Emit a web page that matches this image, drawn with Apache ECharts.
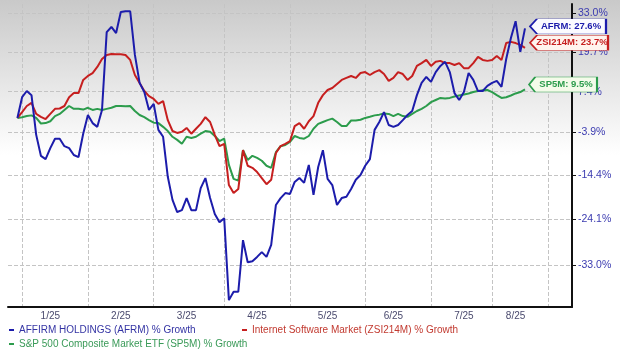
<!DOCTYPE html>
<html>
<head>
<meta charset="utf-8">
<script src="https://cdn.jsdelivr.net/npm/echarts@6/dist/echarts.min.js"></script>
<style>
  html, body { margin: 0; padding: 0; background: #fff; }
  #chart { width: 620px; height: 353px; }
</style>
</head>
<body>
<div id="chart"></div>
<script>
// % growth since start, one value per sample step (first sample sits at slot 2)
const afrm = [
  0, 5.8, 7.6, 6.4, -4.5, -9.8, -10.6, -7.9, -5.5, -5.5,
  -7.4, -7.9, -9.6, -10.1, -4.2, 0.8, -1.4, -2.4, 2.2, 26.3,
  28.1, 26.0, 33.4, 33.7, 33.7, 18.7, 10.0, 7.3, 2.2, 3.9,
  -3.2, -5.0, -14.8, -20.0, -22.6, -22.2, -19.6, -22.2, -22.2, -17.4,
  -15.1, -19.6, -23.0, -24.7, -23.9, -39.1, -37.7, -37.7, -28.3, -32.5,
  -32.3, -31.5, -30.6, -31.5, -29.2, -21.1, -19.6, -18.5, -18.7, -16.0,
  -15.1, -16.2, -12.0, -18.9, -12.5, -8.4, -15.3, -16.7, -21.1, -19.6,
  -19.3, -17.6, -15.5, -14.4, -12.2, -10.6, -3.2, -1.1, 1.6, -1.9,
  -2.4, -1.9, -0.6, 0.8, 1.9, 6.4, 10.0, 11.8, 10.3, 13.3,
  15.2, 16.5, 13.3, 7.0, 5.0, 7.3, 13.0, 10.9, 7.6, 7.6,
  9.1, 10.0, 10.6, 8.8, 17.4, 24.3, 30.1, 19.7, 27.6
];
const zsi = [
  0, 1.6, 3.3, 4.2, 1.1, 0.3, -0.3, 1.1, 2.5, 2.6,
  3.3, 5.8, 7.0, 7.0, 10.9, 12.1, 13.0, 14.9, 17.4, 18.7,
  19.0, 18.9, 18.9, 18.7, 17.1, 12.4, 10.0, 7.6, 6.1, 5.3,
  3.9, 4.7, -0.6, -3.5, -4.0, -3.7, -2.7, -4.2, -2.9, -1.6,
  0.2, -1.1, -4.5, -7.4, -6.8, -16.7, -18.5, -17.6, -8.4, -12.2,
  -12.7, -13.7, -15.1, -16.5, -15.5, -9.1, -7.4, -6.8, -6.1, -2.2,
  -1.4, -2.9, -0.9, 0.5, 4.2, 6.4, 7.9, 8.5, 9.7, 10.9,
  11.5, 12.1, 11.5, 13.0, 13.3, 12.4, 13.3, 13.9, 12.7, 10.6,
  11.5, 13.3, 12.7, 10.9, 12.1, 15.2, 16.1, 17.1, 15.2, 16.5,
  16.8, 16.1, 16.1, 15.5, 16.1, 14.5, 14.5, 16.1, 18.1, 17.1,
  16.8, 17.1, 18.4, 17.1, 22.6, 23.0, 22.6, 22.0, 21.0
];
const sp5m = [
  0, 0.2, 0.5, 0.7, 0, -1.5, -1.4, -0.9, 0.5, 1.1,
  2.2, 3.3, 2.5, 2.5, 2.3, 2.8, 2.2, 2.5, 2.2, 2.5,
  2.8, 3.3, 3.3, 3.2, 3.3, 1.9, 0.8, 0.2, -0.6, -1.3,
  -1.4, -2.4, -3.5, -5.0, -5.8, -6.8, -5.0, -5.3, -5.0, -4.2,
  -3.5, -3.7, -4.8, -6.1, -5.5, -12.0, -15.3, -15.7, -8.4, -10.8,
  -9.8, -10.3, -11.0, -12.2, -12.7, -8.9, -7.4, -7.1, -6.3, -4.8,
  -5.3, -5.5, -4.8, -2.9, -1.6, -1.1, -0.6, -0.2, -1.1, -2.2,
  -2.2, -0.7, -0.7, -0.5, 0, 0.3, 0.7, 0.9, 1.2, 1.1,
  0.5, 1.1, 0.5, 0.3, 1.1, 1.9, 2.5, 3.3, 4.4, 5.0,
  5.6, 5.4, 5.6, 6.0, 6.3, 6.6, 6.9, 7.3, 7.6, 7.8,
  7.9, 7.3, 6.4, 5.6, 5.8, 6.3, 6.9, 7.3, 8.1
];

const seriesNames = [
  'AFFIRM HOLDINGS (AFRM) % Growth',
  'Internet Software Market (ZSI214M) % Growth',
  'S&P 500 Composite Market ETF (SP5M) % Growth'
];
const tickers = ['AFRM', 'ZSI214M', 'SP5M'];
const lastValues = [27.6, 23.7, 9.5];

const yTicks = [33.0, 19.7, 7.4, -3.9, -14.4, -24.1, -33.0];
const monthLabels = ['1/25', '2/25', '3/25', '4/25', '5/25', '6/25', '7/25', '8/25'];
const monthLabelSlots = [9, 24, 38, 53, 68, 82, 97, 108];
const monthBoundSlots = [3, 17, 31, 46, 60, 76, 90, 103, 115];

const slotCount = 121;
const firstSlot = 2;
const slots = Array.from({ length: slotCount }, (_, i) => String(i));

// growth % -> growth factor, plotted on a log axis
const toFactor = (p) => 1 + p / 100;
const place = (arr) => {
  const out = new Array(slotCount).fill(null);
  arr.forEach((v, i) => { out[firstSlot + i] = toFactor(v); });
  return out;
};

const colors = ['#1c1cab', '#c61f1f', '#2c9c4c'];
const textColors = ['#3434a4', '#c23a30', '#3a9a58'];
const tagFills = ['#fbfbff', '#fff4ee', '#f4fbea'];
const tagSizes = [[76, 15], [78, 15], [68, 15]];
const tagOffsets = [[43, -2], [44, 3], [38, 0]];
const lastSlot = firstSlot + afrm.length - 1;

const chart = echarts.init(document.getElementById('chart'));

const series = [afrm, zsi, sp5m].map((arr, k) => ({
  name: seriesNames[k],
  type: 'line',
  data: place(arr),
  showSymbol: false,
  symbol: 'none',
  lineStyle: { color: colors[k], width: 2 },
  itemStyle: { color: colors[k] },
  z: 3 - k,
  markPoint: {
    symbol: 'path://M0,50 L9,0 L100,0 L100,100 L9,100 Z',
    symbolKeepAspect: false,
    symbolSize: tagSizes[k],
    symbolOffset: tagOffsets[k],
    itemStyle: { color: tagFills[k], borderColor: colors[k], borderWidth: 1 },
    label: {
      show: true,
      position: 'inside',
      offset: [3, 0],
      formatter: tickers[k] + ': ' + lastValues[k].toFixed(1) + '%',
      color: colors[k],
      fontFamily: 'Liberation Sans',
      fontSize: 9.5,
      fontWeight: 'bold'
    },
    data: [{ coord: [lastSlot, toFactor(lastValues[k])] }]
  }
}));

const legends = [
  { left: 9, top: 325 },
  { left: 242, top: 325 },
  { left: 9, top: 339 }
].map((pos, k) => ({
  left: pos.left,
  top: pos.top,
  padding: 0,
  icon: 'rect',
  itemWidth: 5,
  itemHeight: 2,
  data: [seriesNames[k]],
  selectedMode: false,
  textStyle: { color: textColors[k], fontSize: 10, fontFamily: 'Liberation Sans' }
}));

chart.setOption({
  animation: false,
  graphic: [{
    type: 'rect',
    z: -10,
    silent: true,
    shape: { x: 0, y: 0, width: 620, height: 310 },
    style: {
      fill: new echarts.graphic.LinearGradient(0, 0, 0, 1, [
        { offset: 0, color: '#c9c9c9' },
        { offset: 0.5, color: '#ffffff' },
        { offset: 1, color: '#ffffff' }
      ])
    }
  }],
  grid: { left: 8, right: 48, top: 4, bottom: 46, containLabel: false, outerBoundsMode: 'none' },
  legend: legends,
  xAxis: {
    type: 'category',
    data: slots,
    boundaryGap: false,
    axisLine: { onZero: false, lineStyle: { color: '#111', width: 2 } },
    axisTick: { show: false },
    axisLabel: {
      interval: (i) => monthLabelSlots.includes(i),
      formatter: (v) => monthLabels[monthLabelSlots.indexOf(Number(v))] || '',
      color: '#4a4a6e',
      fontSize: 10,
      fontFamily: 'Liberation Sans',
      margin: 4
    },
    splitLine: {
      show: true,
      interval: (i) => monthBoundSlots.includes(i),
      lineStyle: { color: '#c4c4c4', type: 'dashed', width: 1 }
    }
  },
  yAxis: {
    type: 'log',
    position: 'right',
    min: 0.5977,
    max: 1.3636,
    axisLine: { show: true, lineStyle: { color: '#111', width: 2 } },
    axisTick: {
      show: true,
      length: 4,
      customValues: yTicks.map(toFactor),
      lineStyle: { color: '#111' }
    },
    axisLabel: {
      customValues: yTicks.map(toFactor),
      formatter: (v) => ((v - 1) * 100).toFixed(1) + '%',
      color: '#3b3bb0',
      fontSize: 10.5,
      fontFamily: 'Liberation Sans',
      margin: 6
    },
    splitLine: { show: true, lineStyle: { color: '#c4c4c4', type: 'dashed', width: 1 } }
  },
  series: series
});
</script>
</body>
</html>
